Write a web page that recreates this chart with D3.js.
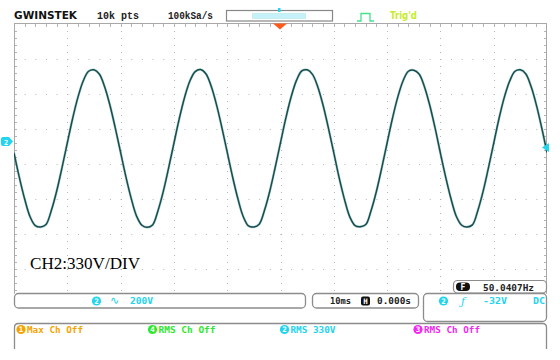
<!DOCTYPE html>
<html>
<head>
<meta charset="utf-8">
<script src="https://cdn.jsdelivr.net/npm/d3@7/dist/d3.min.js"></script>
<style>
  body { margin: 0; background: #fff; }
  svg { display: block; }
  text { font-family: "DejaVu Sans Mono", monospace; font-weight: bold; font-size: 9px; }
</style>
</head>
<body>
<svg id="scope" width="560" height="360"></svg>
<script>
// GDS screen capture -- CH2 trace, 10ms/div

// one sample per ms, value in divisions from screen centre
var sampleMs = 1;
var ch2Div = [
   0.32, -0.38, -1.00, -1.50, -1.76, -1.80, -1.73, -1.33, -0.78, -0.11,
   0.60,  1.30,  1.91,  2.38,  2.65,  2.69,  2.57,  2.21,  1.68,  1.03,
   0.33, -0.37, -0.99, -1.49, -1.75, -1.81, -1.74, -1.34, -0.79, -0.12,
   0.59,  1.29,  1.90,  2.37,  2.64,  2.70,  2.58,  2.22,  1.69,  1.04,
   0.34, -0.36, -0.99, -1.50, -1.77, -1.80, -1.72, -1.32, -0.77, -0.10,
   0.61,  1.31,  1.92,  2.39,  2.66,  2.69,  2.56,  2.20,  1.67,  1.02,
   0.32, -0.39, -1.01, -1.51, -1.76, -1.79, -1.73, -1.33, -0.78, -0.11,
   0.60,  1.30,  1.91,  2.38,  2.65,  2.68,  2.57,  2.21,  1.68,  1.03,
   0.31, -0.38, -1.00, -1.50, -1.75, -1.80, -1.74, -1.34, -0.79, -0.12,
   0.59,  1.30,  1.91,  2.37,  2.65,  2.69,  2.58,  2.22,  1.69,  1.04,
   0.33
];

var timeDivMs = 10;
var xDivCount = 10;
var yDivCount = 8;

var headerLabels = ["10k pts", "100kSa/s"];
var trigLabel = "Trig'd";
var scaleNote = "CH2:330V/DIV";
var freqLabel = "50.0407Hz";
var vertLabels = ["200V"];
var horizLabels = ["10ms", "0.000s"];
var trigLabels = ["-32V", "DC"];
var measureChannels = ["1", "4", "2", "3"];
var measureTexts = ["Max Ch Off", "RMS Ch Off", "RMS 330V", "RMS Ch Off"];

var CYAN = "#22d4ee";
var measureColors = ["#f5a300", "#2ee82e", CYAN, "#f028f0"];

var svg = d3.select("#scope");

var x = d3.scaleLinear().domain([0, timeDivMs * xDivCount]).range([14, 547]);
var y = d3.scaleLinear().domain([-yDivCount / 2, yDivCount / 2]).range([304, 24]);

///////////////////////////////////////////////////////////////////////////////
// Graticule

var grid = svg.append("g").attr("class", "grid");

grid.selectAll("line.v")
  .data(d3.range(1, xDivCount))
  .enter().append("line")
  .attr("x1", function (d) { return Math.round(x(d * timeDivMs)) + 0.5; })
  .attr("x2", function (d) { return Math.round(x(d * timeDivMs)) + 0.5; })
  .attr("y1", y.range()[1]).attr("y2", y.range()[0])
  .attr("stroke", "#b4b4b4")
  .attr("stroke-dasharray", "1," + ((y(0) - y(0.2)) - 1));

grid.selectAll("line.h")
  .data(d3.range(-yDivCount / 2 + 1, yDivCount / 2))
  .enter().append("line")
  .attr("y1", function (d) { return Math.round(y(d)) + 0.5; })
  .attr("y2", function (d) { return Math.round(y(d)) + 0.5; })
  .attr("x1", x.range()[0]).attr("x2", x.range()[1])
  .attr("stroke", "#b4b4b4")
  .attr("stroke-dasharray", "1," + ((x(2) - x(0)) - 1));

// small ticks just inside the frame
var xMinor = d3.range(2, timeDivMs * xDivCount, 2);
grid.selectAll("line.tt")
  .data(xMinor).enter().append("line")
  .attr("x1", function (d) { return Math.round(x(d)) + 0.5; })
  .attr("x2", function (d) { return Math.round(x(d)) + 0.5; })
  .attr("y1", 24).attr("y2", 27)
  .attr("stroke", "#b4b4b4");

var yMinor = d3.range(-3.8, 4, 0.2);
grid.selectAll("line.lt")
  .data(yMinor).enter().append("line")
  .attr("y1", function (d) { return Math.round(y(d)) + 0.5; })
  .attr("y2", function (d) { return Math.round(y(d)) + 0.5; })
  .attr("x1", 15).attr("x2", 17)
  .attr("stroke", "#b4b4b4");
grid.selectAll("line.rt")
  .data(yMinor).enter().append("line")
  .attr("y1", function (d) { return Math.round(y(d)) + 0.5; })
  .attr("y2", function (d) { return Math.round(y(d)) + 0.5; })
  .attr("x1", 544).attr("x2", 546)
  .attr("stroke", "#b4b4b4");

grid.append("rect")
  .attr("x", 14.5).attr("y", 23.5)
  .attr("width", 532).attr("height", 281)
  .attr("fill", "none").attr("stroke", "#a8a8a8");

///////////////////////////////////////////////////////////////////////////////
// Trace

svg.append("clipPath").attr("id", "plot")
  .append("rect").attr("x", 14).attr("y", 24).attr("width", 533).attr("height", 280);

var trace = d3.line()
  .x(function (d, i) { return x(i * sampleMs); })
  .y(function (d) { return y(d); })
  .curve(d3.curveCatmullRom.alpha(0.5));

var traceG = svg.append("g").attr("clip-path", "url(#plot)");
traceG.append("path").datum(ch2Div)
  .attr("d", trace).attr("fill", "none")
  .attr("stroke", "#6aa6a6").attr("stroke-width", 2.6).attr("stroke-opacity", 0.45);
traceG.append("path").datum(ch2Div)
  .attr("d", trace).attr("fill", "none")
  .attr("stroke", "#164e4f").attr("stroke-width", 1.5);

// ground marker (left) and trigger level (right)
svg.append("path")
  .attr("d", "M1,139 Q1,137 3,137 L9,137 L13,141.5 L9,146 L3,146 Q1,146 1,144 Z")
  .attr("fill", CYAN);
svg.append("text").attr("x", 6).attr("y", 144.5).attr("text-anchor", "middle")
  .attr("fill", "#fff").style("font-size", "7px").text("2");
svg.append("path").attr("d", "M542,147.5 L549,143 L549,152 Z").attr("fill", CYAN);

///////////////////////////////////////////////////////////////////////////////
// Header

svg.append("text").attr("x", 14).attr("y", 19)
  .style("font-family", "'DejaVu Sans', sans-serif").style("font-weight", "900").style("font-size", "11px")
  .attr("textLength", 63).attr("lengthAdjust", "spacingAndGlyphs")
  .attr("fill", "#111").text("GWINSTEK");

svg.selectAll("text.hdr")
  .data(headerLabels).enter().append("text")
  .attr("x", function (d, i) { return [97, 168][i]; })
  .attr("y", 19)
  .attr("textLength", function (d, i) { return [42, 45][i]; })
  .attr("lengthAdjust", "spacingAndGlyphs")
  .style("font-family", "'Liberation Mono', monospace").style("font-size", "10px")
  .attr("fill", "#222").text(function (d) { return d; });

// memory bar
svg.append("rect").attr("x", 226.5).attr("y", 10.5).attr("width", 106).attr("height", 10.5)
  .attr("fill", "#fff").attr("stroke", "#888").attr("stroke-width", 1.2);
svg.append("rect").attr("x", 252.5).attr("y", 13.5).attr("width", 53).attr("height", 5)
  .attr("fill", "#c4f2f8").attr("stroke", "#9fd8e4").attr("stroke-width", 0.8)
  .attr("stroke-dasharray", "1,1");
svg.append("rect").attr("x", 278).attr("y", 8).attr("width", 2.5).attr("height", 4).attr("fill", CYAN);
svg.append("path").attr("d", "M273,23.5 L287,23.5 L280,29.5 Z").attr("fill", "#ff5a1c");

// trigger status
svg.append("path").attr("d", "M357,21 L361,21 L361,13.5 L370,13.5 L370,21 L374,21")
  .attr("fill", "none").attr("stroke", "#44e28a").attr("stroke-width", 1.3);
svg.append("text").attr("x", 390).attr("y", 19)
  .style("font-family", "'DejaVu Sans', sans-serif").style("font-size", "10px")
  .attr("textLength", 27).attr("lengthAdjust", "spacingAndGlyphs")
  .attr("fill", "#c6ec2c").text(trigLabel);

// scale annotation
svg.append("text").attr("x", 30).attr("y", 269)
  .style("font-family", "'Liberation Serif', serif").style("font-weight", "normal").style("font-size", "16px")
  .attr("textLength", 110).attr("lengthAdjust", "spacingAndGlyphs")
  .attr("fill", "#000").text(scaleNote);

///////////////////////////////////////////////////////////////////////////////
// Status panels

var boxStroke = "#8c8c8c";

svg.append("rect").attr("x", 453.5).attr("y", 280.5).attr("width", 93).attr("height", 12.5).attr("rx", 4)
  .attr("fill", "#fff").attr("stroke", boxStroke).attr("stroke-width", 1.2);
svg.append("rect").attr("x", 456).attr("y", 282.5).attr("width", 14).attr("height", 8.5).attr("rx", 4)
  .attr("fill", "#111");
svg.append("text").attr("x", 463).attr("y", 290).attr("text-anchor", "middle")
  .style("font-size", "8px").attr("fill", "#fff").text("F");
svg.append("text").attr("x", 483).attr("y", 290.5)
  .attr("textLength", 51).attr("lengthAdjust", "spacingAndGlyphs")
  .attr("fill", "#222").text(freqLabel);

svg.append("rect").attr("x", 0).attr("y", 293.8).attr("width", 560).attr("height", 66).attr("fill", "#fff");

var panel = function (px, py, w, h) {
  svg.append("rect").attr("x", px).attr("y", py).attr("width", w).attr("height", h).attr("rx", 4)
    .attr("fill", "#fff").attr("stroke", boxStroke).attr("stroke-width", 1.3);
};
panel(14.5, 293.5, 291, 14.5);
panel(312.5, 293.5, 106, 14.5);
panel(423.5, 293.5, 123, 28);

svg.append("path")
  .attr("d", "M14.5,349 L14.5,327.5 Q14.5,323.5 18.5,323.5 L542.5,323.5 Q546.5,323.5 546.5,327.5 L546.5,349")
  .attr("fill", "none").attr("stroke", boxStroke).attr("stroke-width", 1.3);

var badge = function (cx, cy, label, color) {
  svg.append("circle").attr("cx", cx).attr("cy", cy).attr("r", 4.6).attr("fill", color);
  svg.append("text").attr("x", cx).attr("y", cy + 2.8).attr("text-anchor", "middle")
    .style("font-size", "7.5px").attr("fill", "#fff").text(label);
};

// vertical panel
badge(96.5, 301, "2", CYAN);
svg.append("text").attr("x", 110).attr("y", 304)
  .style("font-family", "'DejaVu Sans', sans-serif").style("font-weight", "normal").style("font-size", "11px")
  .attr("fill", CYAN).text("\u223F");
svg.append("text").attr("x", 130).attr("y", 304)
  .attr("textLength", 23).attr("lengthAdjust", "spacingAndGlyphs")
  .attr("fill", CYAN).text(vertLabels[0]);

// horizontal panel
svg.append("text").attr("x", 330).attr("y", 304)
  .attr("textLength", 21).attr("lengthAdjust", "spacingAndGlyphs")
  .attr("fill", "#222").text(horizLabels[0]);
svg.append("rect").attr("x", 361).attr("y", 296.5).attr("width", 9).attr("height", 9).attr("rx", 2).attr("fill", "#111");
svg.append("text").attr("x", 365.5).attr("y", 304).attr("text-anchor", "middle")
  .style("font-size", "7.5px").attr("fill", "#fff").text("H");
svg.append("text").attr("x", 377).attr("y", 304)
  .attr("textLength", 34).attr("lengthAdjust", "spacingAndGlyphs")
  .attr("fill", "#222").text(horizLabels[1]);

// trigger panel
badge(443.5, 301, "2", CYAN);
svg.append("text").attr("x", 461).attr("y", 305)
  .style("font-family", "'DejaVu Serif', serif").style("font-style", "italic").style("font-weight", "normal")
  .style("font-size", "11px").attr("fill", CYAN).text("\u0192");
svg.append("text").attr("x", 483).attr("y", 304)
  .attr("textLength", 24).attr("lengthAdjust", "spacingAndGlyphs")
  .attr("fill", CYAN).text(trigLabels[0]);
svg.append("text").attr("x", 533).attr("y", 304)
  .attr("textLength", 12).attr("lengthAdjust", "spacingAndGlyphs")
  .attr("fill", CYAN).text(trigLabels[1]);

// measurement row
var measX = [21, 152.5, 284.5, 418];
var measW = [56, 57, 45, 56];
measureTexts.forEach(function (t, i) {
  badge(measX[i], 329.5, measureChannels[i], measureColors[i]);
  svg.append("text").attr("x", measX[i] + 6).attr("y", 333)
    .attr("textLength", measW[i]).attr("lengthAdjust", "spacingAndGlyphs")
    .attr("fill", measureColors[i]).text(t);
});
</script>
</body>
</html>
